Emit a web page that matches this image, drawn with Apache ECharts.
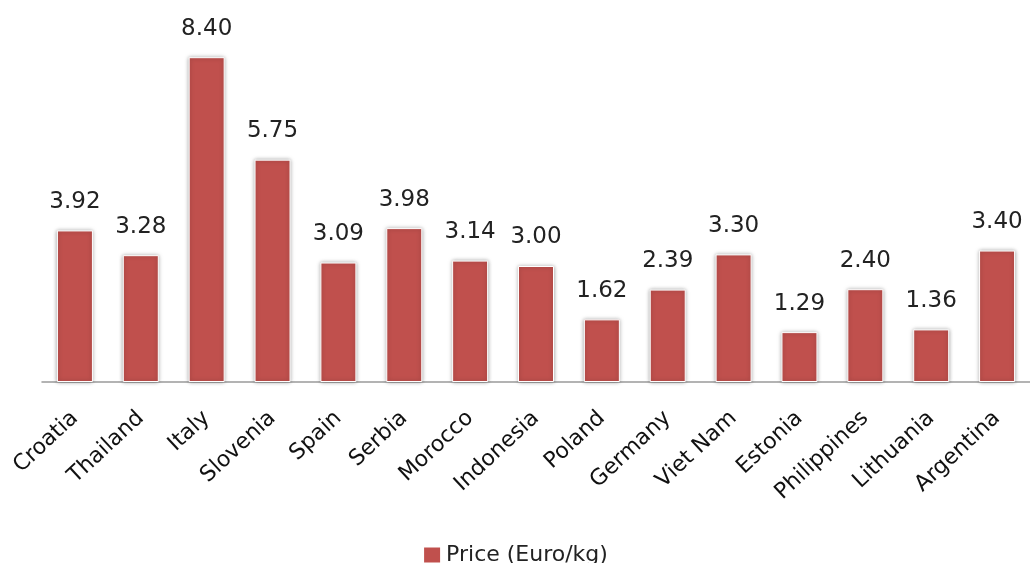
<!DOCTYPE html>
<html><head><meta charset="utf-8">
<script src="https://cdn.jsdelivr.net/npm/echarts@6/dist/echarts.min.js"></script>
<style>html,body{margin:0;padding:0;background:#fff}#c{width:1030px;height:563px}</style>
</head><body><div id="c"></div>
<script>
const categories = ["Croatia","Thailand","Italy","Slovenia","Spain","Serbia","Morocco","Indonesia","Poland","Germany","Viet Nam","Estonia","Philippines","Lithuania","Argentina"];
const prices = [3.92,3.28,8.40,5.75,3.09,3.98,3.14,3.00,1.62,2.39,3.30,1.29,2.40,1.36,3.40];
const seriesName = "Price (Euro/kg)";

const chart = echarts.init(document.getElementById('c'), null, {renderer:'canvas'});
chart.setOption({
  animation:false,
  grid:{left:42, top:34, width:990, height:348, containLabel:false},
  legend:{
    top:539, left:'center', itemWidth:18, itemHeight:17, itemGap:6,
    icon:'rect',
    textStyle:{fontFamily:'DejaVu Sans', fontSize:22, color:'#222'},
    data:[seriesName]
  },
  xAxis:{
    type:'category', data:categories,
    axisLine:{lineStyle:{color:'#9a9a9a', width:1.5}},
    axisTick:{show:false},
    axisLabel:{rotate:43, interval:0, margin:33, fontFamily:'DejaVu Sans', fontSize:22, color:'#111'}
  },
  yAxis:{type:'value', min:0, max:9, show:false, splitLine:{show:false}},
  series:[{
    name:seriesName, type:'bar', data:prices, barWidth:36,
    itemStyle:{color:'#C0504D', borderColor:'#fff', borderWidth:1, shadowBlur:4, shadowColor:'rgba(0,0,0,0.35)'},
    label:{show:true, position:'top', distance:17, formatter:p=>p.value.toFixed(2),
      fontFamily:'DejaVu Sans', fontSize:23, color:'#222'}
  }]
});
</script></body></html>
